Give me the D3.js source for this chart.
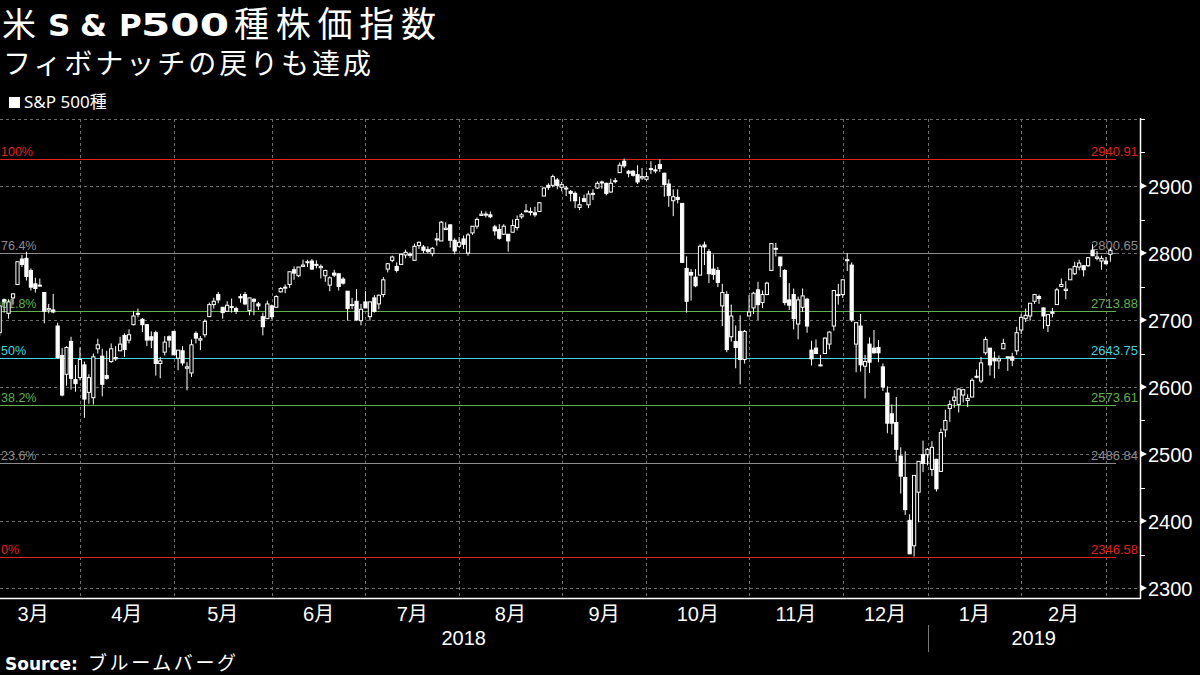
<!DOCTYPE html>
<html><head><meta charset="utf-8">
<script src="https://cdn.jsdelivr.net/npm/d3@7"></script>
<style>body{margin:0;background:#000;}svg{display:block}</style>
</head><body><svg id="c" width="1200" height="675"></svg>
<script>
// ---- DATA ----
const tradingDays = [
 ["2018-03",[5,6,7,8,9,12,13,14,15,16,19,20,21,22,23,26,27,28,29]],
 ["2018-04",[2,3,4,5,6,9,10,11,12,13,16,17,18,19,20,23,24,25,26,27,30]],
 ["2018-05",[1,2,3,4,7,8,9,10,11,14,15,16,17,18,21,22,23,24,25,29,30,31]],
 ["2018-06",[1,4,5,6,7,8,11,12,13,14,15,18,19,20,21,22,25,26,27,28,29]],
 ["2018-07",[2,3,5,6,9,10,11,12,13,16,17,18,19,20,23,24,25,26,27,30,31]],
 ["2018-08",[1,2,3,6,7,8,9,10,13,14,15,16,17,20,21,22,23,24,27,28,29,30,31]],
 ["2018-09",[4,5,6,7,10,11,12,13,14,17,18,19,20,21,24,25,26,27,28]],
 ["2018-10",[1,2,3,4,5,8,9,10,11,12,15,16,17,18,19,22,23,24,25,26,29,30,31]],
 ["2018-11",[1,2,5,6,7,8,9,12,13,14,15,16,19,20,21,23,26,27,28,29,30]],
 ["2018-12",[3,4,6,7,10,11,12,13,14,17,18,19,20,21,24,26,27,28,31]],
 ["2019-01",[2,3,4,7,8,9,10,11,14,15,16,17,18,22,23,24,25,28,29,30,31]],
 ["2019-02",[1,4,5,6,7,8,11,12,13,14,15,19,20,21,22,25,26,27,28]],
 ["2019-03",[1]]
];
const opens = [
 2681,2730,2710,2733,2753,2791,2792,2774,2754,2751,2741,2715,2715,2691,2647,2619,2668,2611,2614,
 2633,2592,2584,2657,2646,2617,2638,2644,2654,2677,2670,2693,2710,2701,2693,2675,2681,2635,2652,2675,2683,
 2643,2654,2628,2621,2680,2670,2678,2705,2723,2738,2719,2713,2720,2717,2735,2738,2714,2731,2724,2705,2702,2721,
 2719,2742,2748,2753,2775,2766,2780,2786,2788,2783,2778,2766,2752,2770,2769,2761,2743,2722,2728,2699,2727,
 2705,2733,2724,2738,2776,2789,2780,2783,2797,2798,2789,2811,2809,2805,2799,2821,2818,2835,2842,2819,2810,
 2821,2800,2830,2840,2856,2857,2857,2839,2835,2828,2828,2831,2838,2854,2862,2861,2860,2862,2885,2901,2901,2909,2898,
 2897,2892,2889,2868,2881,2872,2888,2897,2906,2904,2891,2907,2920,2937,2922,2922,2917,2912,2910,
 2926,2924,2932,2919,2903,2878,2883,2874,2777,2771,2764,2767,2812,2802,2776,2774,2721,2738,2675,2668,2683,2641,2706,
 2718,2745,2726,2738,2774,2806,2794,2774,2730,2738,2694,2719,2731,2655,2658,2633,2650,2664,2691,2737,2738,
 2790,2782,2664,2691,2631,2664,2658,2659,2630,2591,2560,2547,2497,2465,2401,2363,2443,2499,2499,
 2477,2492,2474,2536,2568,2580,2574,2588,2580,2585,2615,2609,2651,2658,2643,2639,2657,2645,2645,2654,2685,
 2702,2706,2728,2735,2718,2692,2712,2723,2750,2744,2760,2769,2779,2781,2781,2804,2792,2788,2788,
 2798
];
const highs = [
 2728,2732,2731,2740,2787,2797,2802,2777,2763,2762,2741,2724,2739,2696,2658,2661,2675,2633,2659,
 2638,2619,2650,2672,2657,2654,2665,2661,2675,2680,2686,2713,2717,2703,2694,2683,2684,2645,2676,2677,2683,
 2655,2661,2637,2671,2683,2676,2701,2726,2733,2742,2719,2728,2732,2720,2739,2742,2733,2732,2727,2711,2729,2723,
 2737,2749,2753,2772,2780,2779,2790,2790,2791,2789,2783,2775,2765,2775,2769,2764,2743,2733,2746,2724,2743,
 2727,2737,2738,2764,2785,2796,2786,2799,2805,2801,2814,2817,2812,2810,2809,2830,2848,2846,2843,2822,2824,
 2826,2830,2840,2853,2863,2862,2862,2842,2843,2843,2828,2850,2856,2860,2873,2868,2869,2876,2898,2904,2917,2912,2906,
 2900,2894,2892,2884,2887,2893,2895,2907,2908,2905,2911,2912,2935,2941,2924,2924,2931,2927,2921,
 2937,2931,2940,2920,2910,2895,2895,2874,2795,2776,2776,2813,2817,2806,2798,2779,2754,2743,2723,2692,2707,2685,2737,
 2742,2757,2744,2757,2815,2815,2794,2776,2755,2747,2735,2747,2733,2669,2671,2648,2674,2683,2744,2754,2761,
 2800,2786,2696,2709,2648,2674,2685,2670,2635,2601,2574,2585,2510,2504,2410,2468,2489,2520,2509,
 2519,2493,2538,2566,2580,2595,2598,2596,2589,2613,2626,2645,2675,2658,2653,2647,2672,2645,2651,2690,2709,
 2717,2725,2739,2738,2719,2708,2718,2748,2762,2758,2776,2787,2790,2782,2794,2813,2803,2796,2794,
 2808
];
const lows = [
 2676,2711,2702,2723,2752,2779,2759,2744,2741,2750,2695,2710,2710,2642,2586,2602,2596,2593,2610,
 2554,2575,2574,2650,2586,2611,2636,2639,2654,2645,2665,2692,2704,2682,2661,2658,2617,2613,2647,2659,2648,
 2625,2632,2595,2615,2665,2655,2674,2705,2717,2725,2702,2712,2711,2709,2726,2722,2707,2707,2715,2677,2702,2701,
 2719,2741,2740,2748,2760,2764,2780,2779,2775,2777,2762,2757,2743,2764,2744,2753,2699,2716,2699,2692,2718,
 2699,2711,2716,2734,2771,2786,2771,2782,2792,2793,2789,2806,2800,2800,2795,2811,2818,2835,2808,2798,2808,
 2806,2796,2827,2836,2856,2853,2852,2826,2820,2827,2802,2831,2834,2851,2861,2856,2854,2862,2885,2894,2898,2895,2892,
 2885,2877,2867,2864,2876,2867,2879,2896,2896,2886,2890,2904,2920,2927,2913,2914,2903,2909,2908,
 2918,2919,2921,2884,2869,2855,2874,2785,2711,2729,2749,2767,2782,2755,2760,2749,2691,2652,2668,2628,2604,2635,2706,
 2709,2700,2718,2737,2774,2795,2764,2722,2715,2686,2671,2712,2681,2632,2650,2631,2650,2656,2684,2723,2733,
 2773,2697,2622,2623,2583,2621,2650,2637,2594,2531,2529,2489,2441,2409,2351,2347,2398,2473,2483,
 2467,2444,2474,2525,2548,2569,2562,2577,2570,2585,2613,2606,2648,2617,2613,2627,2657,2624,2631,2648,2679,
 2697,2699,2724,2724,2687,2682,2704,2723,2749,2731,2760,2767,2774,2765,2779,2795,2789,2775,2783,
 2787
];
const closes = [
 2721,2728,2727,2739,2787,2783,2765,2749,2747,2752,2713,2717,2712,2644,2588,2659,2613,2605,2641,
 2582,2614,2645,2663,2604,2613,2657,2642,2664,2656,2678,2706,2709,2693,2670,2670,2635,2639,2667,2670,2648,
 2655,2636,2630,2663,2673,2672,2698,2723,2728,2730,2711,2722,2720,2713,2733,2724,2733,2728,2721,2690,2724,2705,
 2735,2747,2749,2772,2770,2779,2782,2787,2776,2782,2780,2774,2763,2767,2750,2755,2717,2723,2700,2716,2718,
 2727,2713,2737,2760,2784,2794,2774,2798,2801,2798,2810,2816,2804,2802,2807,2820,2846,2837,2819,2803,2816,
 2813,2827,2840,2850,2858,2858,2854,2833,2822,2840,2818,2841,2850,2857,2863,2862,2857,2875,2897,2898,2914,2901,2902,
 2897,2889,2878,2872,2877,2888,2889,2904,2905,2889,2904,2908,2931,2930,2919,2916,2906,2914,2914,
 2925,2923,2926,2902,2886,2884,2880,2786,2728,2767,2751,2810,2809,2769,2768,2756,2741,2656,2706,2659,2641,2683,2712,
 2740,2723,2738,2755,2814,2807,2781,2726,2722,2702,2730,2736,2691,2642,2650,2633,2673,2682,2744,2738,2760,
 2790,2700,2696,2633,2638,2637,2651,2651,2600,2546,2546,2507,2467,2417,2351,2468,2489,2486,2507,
 2510,2448,2532,2550,2574,2585,2597,2596,2583,2610,2616,2636,2671,2633,2639,2642,2665,2644,2640,2681,2704,
 2707,2725,2738,2732,2706,2708,2710,2745,2753,2746,2776,2780,2785,2775,2793,2796,2794,2792,2784,
 2804
];
const fibLevels = [2940.91, 2800.65, 2713.88, 2643.75, 2573.61, 2486.84, 2346.58];
const fibLabels = ["100%", "76.4%", "61.8%", "50%", "38.2%", "23.6%", "0%"];
const fibColors = ["#e0221e", "#8c8c8c", "#5fb24e", "#45d3df", "#5fb24e", "#8c8c8c", "#e0221e"];
const yTicks = [2300, 2400, 2500, 2600, 2700, 2800, 2900];
const monthLabels = ["3月","4月","5月","6月","7月","8月","9月","10月","11月","12月","1月","2月"];
const yearLabels = ["2018", "2019"];

// ---- CHART ----
const dates = [];
tradingDays.forEach(([ym, days]) => days.forEach(d => dates.push(ym + "-" + String(d).padStart(2, "0"))));
const n = dates.length;
const data = dates.map((d, i) => ({i, d, o: opens[i], h: highs[i], l: lows[i], c: closes[i]}));

const svg = d3.select("#c");
svg.append("rect").attr("width", 1200).attr("height", 675).attr("fill", "#000");

const plotTop = 119, plotBottom = 598, plotRight = 1140;
const x = d3.scaleLinear().domain([0, n - 1]).range([-0.34, 1110.4]);
const y = d3.scaleLinear().domain([2300, 3000]).range([588, 119]);
const CJK = "'Noto Sans CJK JP','Noto Sans',sans-serif";
const SANS = "'Liberation Sans','Noto Sans CJK JP',sans-serif";

// month boundaries (last trading day of each month)
const bounds = [];
for (let i = 0; i < n - 1; i++) if (dates[i].slice(0, 7) !== dates[i + 1].slice(0, 7)) bounds.push(i);

// grid
const grid = svg.append("g").attr("stroke", "#6e6e6e").attr("stroke-dasharray", "3,3").attr("stroke-width", 1);
grid.selectAll("line.h").data(d3.range(2300, 3001, 100)).join("line")
  .attr("x1", 0).attr("x2", plotRight)
  .attr("y1", d => Math.round(y(d)) + 0.5).attr("y2", d => Math.round(y(d)) + 0.5);
grid.selectAll("line.v").data(bounds).join("line")
  .attr("x1", d => Math.round(x(d)) + 0.5).attr("x2", d => Math.round(x(d)) + 0.5)
  .attr("y1", plotTop).attr("y2", plotBottom);

// fib lines
const fib = svg.append("g");
fibLevels.forEach((lv, k) => {
  const yy = Math.round(y(lv)) + 0.5;
  fib.append("line").attr("x1", 0).attr("x2", 1116).attr("y1", yy).attr("y2", yy)
    .attr("stroke", fibColors[k]).attr("stroke-width", 1.2);
});

// candles
svg.append("clipPath").attr("id", "clip").append("rect")
  .attr("x", 0).attr("y", plotTop).attr("width", plotRight).attr("height", plotBottom - plotTop);
const cg = svg.append("g").attr("clip-path", "url(#clip)");
const bw = 3.2;
cg.selectAll("line.w").data(data).join("line")
  .attr("x1", d => x(d.i)).attr("x2", d => x(d.i))
  .attr("y1", d => y(d.h)).attr("y2", d => y(d.l))
  .attr("stroke", "#fff").attr("stroke-width", 1);
cg.selectAll("rect.b").data(data).join("rect")
  .attr("x", d => x(d.i) - bw / 2)
  .attr("width", bw)
  .attr("y", d => y(Math.max(d.o, d.c)))
  .attr("height", d => Math.max(1, Math.abs(y(d.o) - y(d.c))))
  .attr("fill", d => d.c >= d.o ? "#000" : "#fff")
  .attr("stroke", "#fff").attr("stroke-width", 1);

// fib labels
fibLevels.forEach((lv, k) => {
  const yy = y(lv) - 3;
  fib.append("text").attr("x", 1).attr("y", yy).attr("fill", fibColors[k])
    .attr("font-family", SANS).attr("font-size", 12.5).text(fibLabels[k]);
  fib.append("text").attr("x", 1138).attr("y", yy).attr("text-anchor", "end").attr("fill", fibColors[k])
    .attr("font-family", SANS).attr("font-size", 13).text(lv.toFixed(2));
});

// axes
svg.append("line").attr("x1", plotRight + 0.5).attr("x2", plotRight + 0.5).attr("y1", plotTop - 1).attr("y2", plotBottom + 1)
  .attr("stroke", "#fff").attr("stroke-width", 1.5);
svg.append("line").attr("x1", 0).attr("x2", plotRight + 1).attr("y1", plotBottom + 0.5).attr("y2", plotBottom + 0.5)
  .attr("stroke", "#fff").attr("stroke-width", 1.5);
const yax = svg.append("g");
yax.selectAll("line.minor").data(d3.range(2350, 3001, 100).concat([3000])).join("line")
  .attr("x1", plotRight).attr("x2", plotRight + 5)
  .attr("y1", d => Math.round(y(d)) + 0.5).attr("y2", d => Math.round(y(d)) + 0.5)
  .attr("stroke", "#fff");
yax.selectAll("path.major").data(yTicks).join("path")
  .attr("d", d => { const yy = y(d); return `M${plotRight},${yy - 3.5}L${plotRight + 7},${yy}L${plotRight},${yy + 3.5}Z`; })
  .attr("fill", "#fff");
yax.selectAll("text").data(yTicks).join("text")
  .attr("x", 1148).attr("y", d => y(d) + 7.5)
  .attr("fill", "#fff").attr("font-family", SANS).attr("font-size", 20).text(d => d);

// month labels
const edges = [-3].concat(bounds);
svg.append("g").selectAll("text").data(monthLabels).join("text")
  .attr("x", (d, k) => (x(edges[k]) + x(edges[k + 1])) / 2)
  .attr("y", 621).attr("text-anchor", "middle")
  .attr("fill", "#fff").attr("font-family", SANS).attr("font-size", 20).text(d => d);
const yearEdge = x(bounds[9]);
const yearCenters = [yearEdge / 2, (yearEdge + plotRight) / 2];
svg.append("g").selectAll("text").data(yearLabels).join("text")
  .attr("x", (d, k) => yearCenters[k]).attr("y", 645).attr("text-anchor", "middle")
  .attr("fill", "#fff").attr("font-family", SANS).attr("font-size", 20).text(d => d);
svg.append("line").attr("x1", Math.round(yearEdge) + 0.5).attr("x2", Math.round(yearEdge) + 0.5)
  .attr("y1", 625).attr("y2", 652).attr("stroke", "#777");

// title
const t = svg.append("g").attr("fill", "#fff");
t.append("text").attr("x", 2).attr("y", 37).attr("font-family", CJK).attr("font-size", 34).text("米");
const BOLD = "'DejaVu Sans',sans-serif";
[["S", 48], ["&", 80], ["P", 119]].forEach(([s, px]) =>
  t.append("text").attr("x", px).attr("y", 36).attr("font-family", BOLD).attr("font-weight", "bold").attr("font-size", 31).text(s));
t.append("text").attr("x", 141).attr("y", 36).attr("font-family", BOLD).attr("font-weight", "bold").attr("font-size", 32)
  .attr("textLength", 88).attr("lengthAdjust", "spacingAndGlyphs").text("500");
t.append("text").attr("x", 234).attr("y", 37).attr("font-family", CJK).attr("font-size", 35)
  .attr("textLength", 202).attr("lengthAdjust", "spacing").text("種株価指数");
t.append("text").attr("x", 3).attr("y", 74).attr("font-family", CJK).attr("font-size", 28)
  .attr("textLength", 368).attr("lengthAdjust", "spacing").text("フィボナッチの戻りも達成");

// legend
svg.append("rect").attr("x", 9).attr("y", 97).attr("width", 11).attr("height", 11).attr("fill", "#fff");
svg.append("text").attr("x", 24).attr("y", 108).attr("fill", "#fff").attr("font-family", "'Noto Sans','Noto Sans CJK JP',sans-serif")
  .attr("font-size", 17).text("S&P 500種");

// source
svg.append("text").attr("x", 5).attr("y", 670).attr("fill", "#fff").attr("font-family", BOLD)
  .attr("font-weight", "bold").attr("font-size", 17).text("Source:");
svg.append("text").attr("x", 88).attr("y", 670).attr("fill", "#fff").attr("font-family", CJK)
  .attr("font-size", 19).attr("textLength", 148).attr("lengthAdjust", "spacing").text("ブルームバーグ");
</script></body></html>
